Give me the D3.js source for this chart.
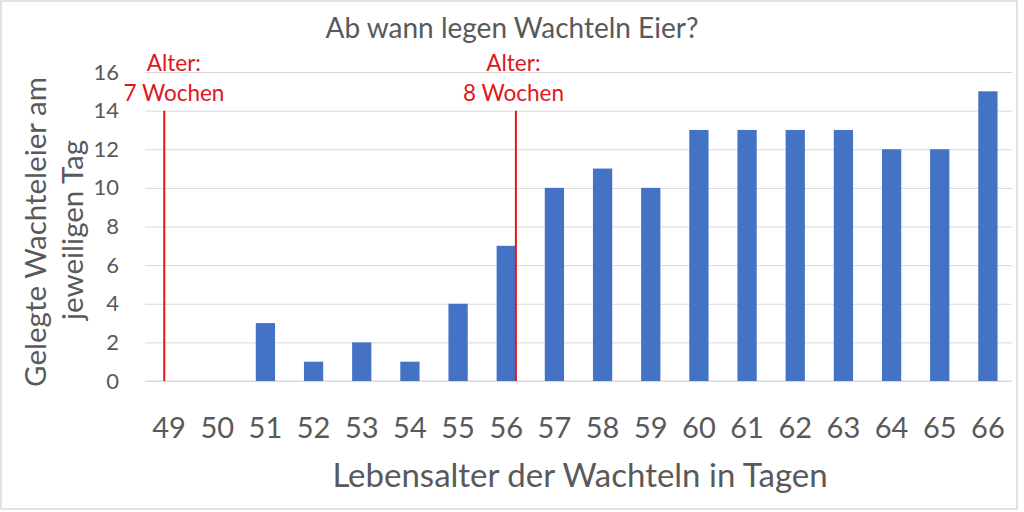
<!DOCTYPE html>
<html>
<head>
<meta charset="utf-8">
<script src="https://cdn.jsdelivr.net/npm/d3@7"></script>
<style>
  html, body { margin: 0; padding: 0; background: #fff; }
  svg { display: block; }
  text { font-family: Lato, "Open Sans", sans-serif; }
</style>
</head>
<body>
<svg id="chart" width="1024" height="512"></svg>
<script>
// ---- data ----
const days = [49, 50, 51, 52, 53, 54, 55, 56, 57, 58, 59, 60, 61, 62, 63, 64, 65, 66];
const eggs = [0, 0, 3, 1, 2, 1, 4, 7, 10, 11, 10, 13, 13, 13, 13, 12, 12, 15];
const yTicks = [0, 2, 4, 6, 8, 10, 12, 14, 16];
const markerDays = [48.9, 56.2];          // where the red lines stand (in days)
const markerLabelDays = [49.1, 56.15];    // label centres (in days)
const markerTop = 14;                     // red lines go up to this value
const markerLabels = [["Alter:", "7 Wochen"], ["Alter:", "8 Wochen"]];
const titleText = "Ab wann legen Wachteln Eier?";
const xTitle = "Lebensalter der Wachteln in Tagen";
const yTitle = ["Gelegte Wachteleier am", "jeweiligen Tag"];

// ---- layout ----
const svg = d3.select("#chart");
const plot = { left: 145, right: 1012, top: 72, bottom: 381 };
const textCol = "#595959", gridCol = "#d9d9d9", barCol = "#4472c4", red = "#e0161e";

svg.append("rect").attr("x", 1).attr("y", 1).attr("width", 1016).attr("height", 508)
  .attr("fill", "#fff").attr("stroke", gridCol).attr("stroke-width", 1.5);

const x = d3.scaleBand().domain(days).range([plot.left, plot.right]).paddingInner(0.6).paddingOuter(0.3);
const y = d3.scaleLinear().domain([0, 16]).range([plot.bottom, plot.top]);
const xc = d3.scaleLinear().domain([days[0], days[days.length - 1]])
  .range([x(days[0]) + x.bandwidth() / 2, x(days[days.length - 1]) + x.bandwidth() / 2]);

// gridlines + y axis labels
const yAxis = d3.axisLeft(y).tickValues(yTicks).tickSize(-(plot.right - plot.left)).tickPadding(26);
const gy = svg.append("g").attr("transform", `translate(${plot.left},0)`).call(yAxis);
gy.select(".domain").remove();
gy.selectAll(".tick line").attr("stroke", gridCol).attr("stroke-width", 1);
gy.selectAll(".tick text").attr("fill", textCol).style("font-size", "22px").style("font-family", "Lato, sans-serif");

// x axis
const xAxis = d3.axisBottom(x).tickSize(0).tickPadding(36);
const gx = svg.append("g").attr("transform", `translate(0,${plot.bottom})`).call(xAxis);
gx.select(".domain").attr("stroke", gridCol).attr("d", `M${plot.left},0H${plot.right}`);
gx.selectAll(".tick text").attr("fill", textCol).style("font-size", "29px").style("font-family", "Lato, sans-serif");

// bars
svg.append("g").selectAll("rect").data(days).join("rect")
  .attr("x", d => x(d))
  .attr("width", x.bandwidth())
  .attr("y", (d, i) => y(eggs[i]))
  .attr("height", (d, i) => y(0) - y(eggs[i]))
  .attr("fill", barCol);

// red marker lines + labels
markerDays.forEach((d, i) => {
  svg.append("line")
    .attr("x1", xc(d)).attr("x2", xc(d))
    .attr("y1", y(markerTop)).attr("y2", y(0))
    .attr("stroke", red).attr("stroke-width", 2);
  const t = svg.append("text").attr("text-anchor", "middle").attr("fill", red)
    .style("font-size", "22.5px");
  markerLabels[i].forEach((s, j) => {
    t.append("tspan").attr("x", xc(markerLabelDays[i])).attr("y", 71 + j * 30).text(s);
  });
});

// title
svg.append("text").attr("x", 512).attr("y", 38).attr("text-anchor", "middle")
  .attr("fill", textCol).style("font-size", "28px").text(titleText);

// x title
svg.append("text").attr("x", 580).attr("y", 487).attr("text-anchor", "middle")
  .attr("fill", textCol).style("font-size", "33px").text(xTitle);

// y title
const yTitleX = [46, 83], yTitleY = [232, 230];
yTitle.forEach((s, i) => {
  svg.append("text")
    .attr("transform", `translate(${yTitleX[i]},${yTitleY[i]}) rotate(-90)`)
    .attr("text-anchor", "middle").attr("fill", textCol)
    .style("font-size", "29.5px").text(s);
});
</script>
</body>
</html>
